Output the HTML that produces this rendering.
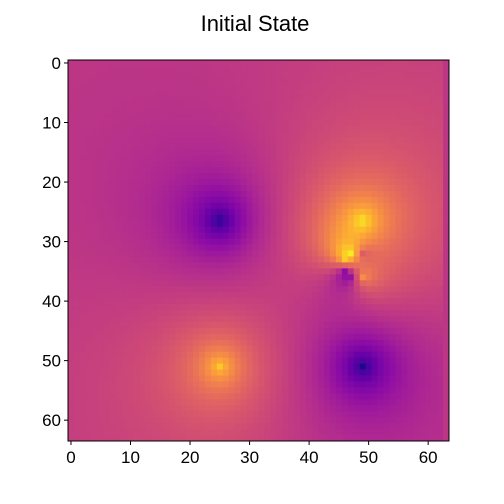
<!DOCTYPE html>
<html><head><meta charset="utf-8"><style>
body{margin:0;background:#fff;}
svg{display:block;font-family:"Liberation Sans","DejaVu Sans",sans-serif;}
</style></head><body>
<svg id="chart" width="504" height="504">
<text x="255" y="31" font-size="22" text-anchor="middle">Initial State</text>
<g id="cells"></g>
<rect x="68" y="60" width="381" height="381" fill="none" stroke="#000" stroke-width="1"/>
<g id="axes"></g>
</svg>
<script>
// source data (positions in grid cells, signed strength)
const gridSize = 64;
const sourceX = [25, 49, 49, 25, 47, 46, 49, 46, 49, 47];
const sourceY = [26.5, 51, 26.5, 51, 32, 33, 32, 35, 36, 36];
const sourceQ = [-1, -1, 1, 1, 1.3, 1.3, -1.1, -1.5, 1.3, -1.0];
const tickValues = [0, 10, 20, 30, 40, 50, 60];
const baseLevel = 0.44;

const x0 = 68, y0 = 60, cell = 381 / gridSize;
const sx = v => x0 + v * cell;
const sy = v => y0 + v * cell;
const stops = ["#0d0887","#41049d","#6a00a8","#8f0da4","#b12a90","#cc4778","#e16462","#f2844b","#fca636","#fcce25","#f0f921"];
function hex(h){return [1,3,5].map(i=>parseInt(h.substr(i,2),16));}
function plasma(t){
  t=Math.max(0,Math.min(1,t));const f=t*10,i=Math.min(9,Math.floor(f)),u=f-i;
  const a=hex(stops[i]),b=hex(stops[i+1]);
  return "rgb("+a.map((c,k)=>Math.round(c+(b[k]-c)*u)).join(",")+")";
}
const NS="http://www.w3.org/2000/svg";
const g=document.getElementById("cells");
for(let r=0;r<gridSize;r++){for(let c=0;c<gridSize;c++){
  let v=baseLevel;
  if(c<gridSize-1){
    for(let k=0;k<sourceX.length;k++){
      const d=Math.hypot(c-sourceX[k],r-sourceY[k]);
      v+=sourceQ[k]*0.55/(1+d*0.2);
    }
  }
  const el=document.createElementNS(NS,"rect");
  el.setAttribute("x",sx(c));el.setAttribute("y",sy(r));
  el.setAttribute("width",cell+0.4);el.setAttribute("height",cell+0.4);
  el.setAttribute("fill",plasma(v));
  
  
  g.appendChild(el);
}}
const ax=document.getElementById("axes");
tickValues.forEach(t=>{
  const px=sx(t+0.5), py=sy(t+0.5);
  let l=document.createElementNS(NS,"line");
  l.setAttribute("x1",px);l.setAttribute("x2",px);l.setAttribute("y1",441);l.setAttribute("y2",445);l.setAttribute("stroke","#000");
  
  
  ax.appendChild(l);
  let tx=document.createElementNS(NS,"text");
  tx.setAttribute("x",px);tx.setAttribute("y",463);tx.setAttribute("font-size","17");tx.setAttribute("text-anchor","middle");tx.textContent=t;
  
  
  ax.appendChild(tx);
  let l2=document.createElementNS(NS,"line");
  l2.setAttribute("x1",64);l2.setAttribute("x2",68);l2.setAttribute("y1",py);l2.setAttribute("y2",py);l2.setAttribute("stroke","#000");
  
  
  ax.appendChild(l2);
  let ty=document.createElementNS(NS,"text");
  ty.setAttribute("x",61);ty.setAttribute("y",py+6);ty.setAttribute("font-size","17");ty.setAttribute("text-anchor","end");ty.textContent=t;
  
  
  ax.appendChild(ty);
});
</script>
</body></html>
